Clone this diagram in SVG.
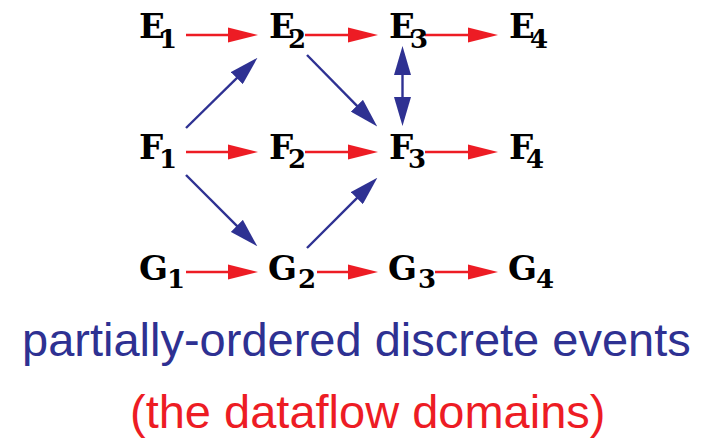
<svg xmlns="http://www.w3.org/2000/svg" width="709" height="438" viewBox="0 0 709 438">
<style>
.lbl{font-family:"DejaVu Serif","Liberation Serif",serif;font-weight:bold;font-size:34px;fill:#000}
.sub{font-size:26px}
.red{stroke:#ed1c24;stroke-width:2.6;fill:none}
.blue{stroke:#2e3192;stroke-width:2.4;fill:none}
.cap{font-family:"Liberation Sans",Arial,sans-serif;font-size:47px}
</style>
<defs>
<marker id="hr" markerUnits="userSpaceOnUse" orient="auto" markerWidth="30" markerHeight="16" refX="10" refY="7.5" viewBox="0 0 30 15">
<path d="M0,0 L30,7.5 L0,15 z" fill="#ed1c24"/>
</marker>
<marker id="hb" markerUnits="userSpaceOnUse" orient="auto-start-reverse" markerWidth="29" markerHeight="17" refX="10" refY="8.5" viewBox="0 0 29 17">
<path d="M0,0 L29,8.5 L0,17 z" fill="#2e3192"/>
</marker>
</defs>
<g id="connectors">
<line class="red" x1="186" y1="35" x2="238" y2="35" marker-end="url(#hr)"/>
<line class="red" x1="305" y1="35" x2="358" y2="35" marker-end="url(#hr)"/>
<line class="red" x1="425" y1="35" x2="478" y2="35" marker-end="url(#hr)"/>
<line class="red" x1="186" y1="152" x2="238" y2="152" marker-end="url(#hr)"/>
<line class="red" x1="305" y1="152" x2="358" y2="152" marker-end="url(#hr)"/>
<line class="red" x1="425" y1="152" x2="478" y2="152" marker-end="url(#hr)"/>
<line class="red" x1="186" y1="272" x2="238" y2="272" marker-end="url(#hr)"/>
<line class="red" x1="317" y1="272" x2="358" y2="272" marker-end="url(#hr)"/>
<line class="red" x1="435" y1="272" x2="478" y2="272" marker-end="url(#hr)"/>
<line class="blue" x1="186" y1="128" x2="243.9" y2="71.1" marker-end="url(#hb)"/>
<line class="blue" x1="307" y1="55" x2="363.9" y2="112.9" marker-end="url(#hb)"/>
<line class="blue" x1="186" y1="175" x2="243.9" y2="232.9" marker-end="url(#hb)"/>
<line class="blue" x1="307" y1="248" x2="363.9" y2="191.1" marker-end="url(#hb)"/>
<line class="blue" x1="402.5" y1="65" x2="402.5" y2="107" marker-start="url(#hb)" marker-end="url(#hb)"/>
</g>
<g id="E1"><text class="lbl" x="139" y="38">E<tspan class="sub" x="159" y="48">1</tspan></text></g>
<g id="E2"><text class="lbl" x="269" y="38">E<tspan class="sub" x="288" y="48">2</tspan></text></g>
<g id="E3"><text class="lbl" x="389" y="38">E<tspan class="sub" x="410" y="48">3</tspan></text></g>
<g id="E4"><text class="lbl" x="509" y="38">E<tspan class="sub" x="530" y="48">4</tspan></text></g>
<g id="F1"><text class="lbl" x="139" y="159">F<tspan class="sub" x="159" y="168">1</tspan></text></g>
<g id="F2"><text class="lbl" x="269" y="159">F<tspan class="sub" x="288" y="168">2</tspan></text></g>
<g id="F3"><text class="lbl" x="389" y="159">F<tspan class="sub" x="408" y="168">3</tspan></text></g>
<g id="F4"><text class="lbl" x="509" y="159">F<tspan class="sub" x="526" y="168">4</tspan></text></g>
<g id="G1"><text class="lbl" x="139" y="280">G<tspan class="sub" x="167" y="288">1</tspan></text></g>
<g id="G2"><text class="lbl" x="268" y="280">G<tspan class="sub" x="298" y="288">2</tspan></text></g>
<g id="G3"><text class="lbl" x="388" y="280">G<tspan class="sub" x="418" y="288">3</tspan></text></g>
<g id="G4"><text class="lbl" x="508" y="280">G<tspan class="sub" x="536" y="288">4</tspan></text></g>
<text class="cap" x="22" y="356" fill="#2e3192">partially-ordered discrete events</text>
<text class="cap" x="130" y="428" fill="#ed1c24">(the dataflow domains)</text>
</svg>
